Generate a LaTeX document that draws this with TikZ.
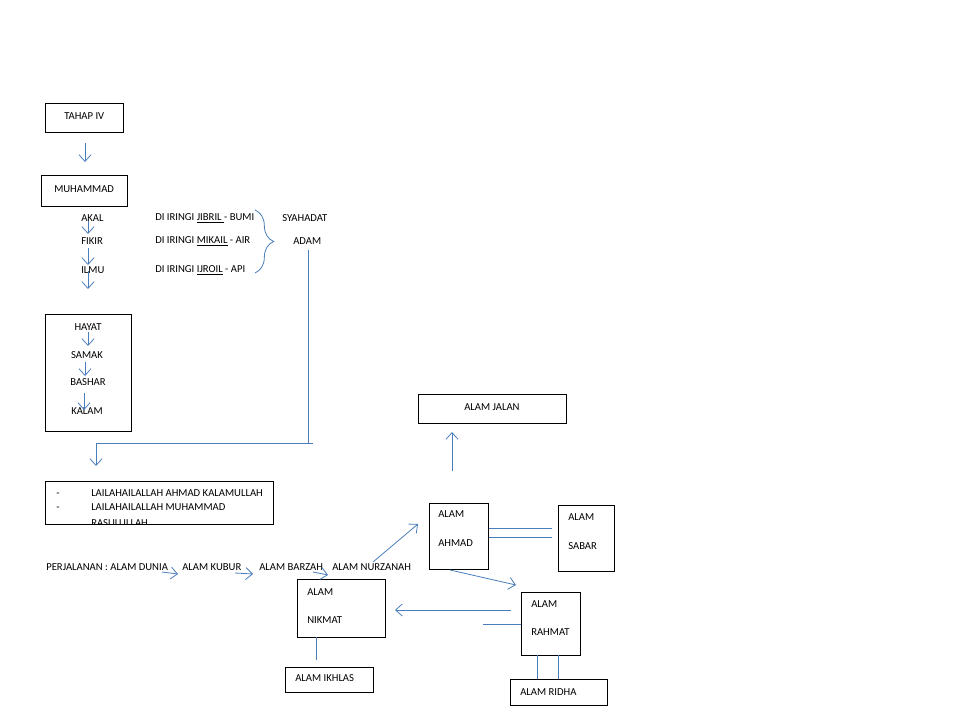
\documentclass[tikz,border=0pt]{standalone}
\usepackage{fontspec}
\setmainfont{Carlito}
\usetikzlibrary{arrows.meta,fit,decorations.pathreplacing}
\definecolor{lineblue}{HTML}{4A7EBB}
\begin{document}
\begin{tikzpicture}[x=0.75pt,y=-0.75pt,
  every node/.style={font=\fontsize{8}{10}\selectfont},
  box/.style={draw=black,line width=0.75pt,inner sep=0pt},
  txt/.style={inner sep=0pt,anchor=west},
  ctxt/.style={inner sep=0pt,anchor=center},
  conn/.style={draw=lineblue,line width=0.6pt},
  arr/.style={conn,-{Straight Barb[length=5pt,width=9pt]}}]
\useasboundingbox[fill=white] (0,0) rectangle (960,720);

% boxes
\node[box,fit={(45,104) (123,133)}] (tahap) {};
\node[box,fit={(41,176) (127,207)}] (muh) {};
\node[box,fit={(45,314) (131,431)}] (hayat) {};
\node[box,fit={(45,481) (273,524)}] (lail) {};
\node[box,fit={(418,394) (566,423)}] (jalan) {};
\node[box,fit={(429,503) (488,569)}] (ahmad) {};
\node[box,fit={(558,505) (614,571)}] (sabar) {};
\node[box,fit={(521,592) (580,655)}] (rahmat) {};
\node[box,fit={(510,679) (607,705)}] (ridha) {};
\node[box,fit={(297,579) (385,637)}] (nikmat) {};
\node[box,fit={(285,667) (373,692)}] (ikhlas) {};

% texts
\node[txt] (t1) at (64,116) {TAHAP IV};
\node[txt] (t2) at (54,189) {MUHAMMAD};
\node[txt] (akal) at (81,218) {AKAL};
\node[txt] (fikir) at (81,241) {FIKIR};
\node[txt] (ilmu) at (81,270) {ILMU};
\node[txt] (d1) at (155,218) {DI IRINGI \underline{JIBRIL\ }- BUMI};
\node[txt] (d2) at (155,241) {DI IRINGI \underline{MIKAIL} - AIR};
\node[txt] (d3) at (155,270) {DI IRINGI \underline{IJROIL} - API};
\node[txt] (sya) at (282,218) {SYAHADAT};
\node[txt] (adam) at (293,241) {ADAM};
\node[ctxt] (hy) at (88,327) {HAYAT};
\node[ctxt] (sm) at (87,355) {SAMAK};
\node[ctxt] (bs) at (88,382) {BASHAR};
\node[ctxt] (kl) at (87,411) {KALAM};
\node[txt] (m1) at (56,493) {\vphantom{L}-};
\node[txt] (m2) at (56,507) {\vphantom{L}-};
\begin{scope}
\clip (45,481) rectangle (273,524);
\node[txt] (l1) at (91,493) {LAILAHAILALLAH AHMAD KALAMULLAH};
\node[txt] (l2) at (91,507) {LAILAHAILALLAH MUHAMMAD};
\node[txt] (l3) at (91,523.5) {RASULULLAH};
\end{scope}
\node[txt] (p1) at (46,567) {PERJALANAN : ALAM DUNIA};
\node[txt] (p2) at (182,567) {ALAM KUBUR};
\node[txt] (p3) at (259,567) {ALAM BARZAH};
\node[txt] (p4) at (332,567) {ALAM NURZANAH};
\node[txt] (tj) at (464,407) {ALAM JALAN};
\node[txt] (ta1) at (438,514) {ALAM};
\node[txt] (ta2) at (438,543) {AHMAD};
\node[txt] (ts1) at (568,517) {ALAM};
\node[txt] (ts2) at (568,546) {SABAR};
\node[txt] (tr1) at (531,604) {ALAM};
\node[txt] (tr2) at (531,632) {RAHMAT};
\node[txt] (trd) at (520,692) {ALAM RIDHA};
\node[txt] (tn1) at (307,592) {ALAM};
\node[txt] (tn2) at (307,620) {NIKMAT};
\node[txt] (tik) at (295,678) {ALAM IKHLAS};

% coordinates for free ends
\coordinate (a1s) at (85,143); \coordinate (a1e) at (85,162);
\coordinate (a2s) at (88,221); \coordinate (a2e) at (88,234);
\coordinate (a3s) at (88,248); \coordinate (a3e) at (88,265);
\coordinate (a4s) at (88,271); \coordinate (a4e) at (88,289);
\coordinate (h1s) at (88,332); \coordinate (h1e) at (88,346);
\coordinate (h2s) at (85,362); \coordinate (h2e) at (85,376);
\coordinate (h3s) at (84,393); \coordinate (h3e) at (84,410);
\coordinate (adA) at (308,250); \coordinate (adB) at (308,443);
\coordinate (adC) at (313,443); \coordinate (adD) at (96,443);
\coordinate (adE) at (96,466);
\coordinate (r1s) at (162,572); \coordinate (r1e) at (178,574);
\coordinate (r2s) at (235,573); \coordinate (r2e) at (253,574);
\coordinate (r3s) at (313,572); \coordinate (r3e) at (328,575);
\coordinate (r4s) at (373,562); \coordinate (r4e) at (418,524);
\coordinate (ju) at (452,471); \coordinate (jt) at (452,432);
\coordinate (s1a) at (489,528); \coordinate (s1b) at (552,528);
\coordinate (s2a) at (489,537); \coordinate (s2b) at (552,537);
\coordinate (ars) at (450,570); \coordinate (are) at (516,585);
\coordinate (nks) at (511,610); \coordinate (nke) at (395,610);
\coordinate (rls) at (483,624);
\coordinate (v1a) at (537,655); \coordinate (v1b) at (537,679);
\coordinate (v2a) at (558,655); \coordinate (v2b) at (558,679);
\coordinate (iks) at (316,637); \coordinate (ike) at (316,660);
\coordinate (brT) at (255,210); \coordinate (brB) at (255,273);

% connectors
\draw[arr] (a1s) -- (a1e);
\draw[arr] (a2s) -- (a2e);
\draw[arr] (a3s) -- (a3e);
\draw[arr] (a4s) -- (a4e);
\draw[arr] (h1s) -- (h1e);
\draw[arr] (h2s) -- (h2e);
\draw[arr] (h3s) -- (h3e);
\draw[conn] (adA) -- (adB);
\draw[arr] (adC) -- (adD) -- (adE);
\draw[arr] (r1s) -- (r1e);
\draw[arr] (r2s) -- (r2e);
\draw[arr] (r3s) -- (r3e);
\draw[arr] (r4s) -- (r4e);
\draw[arr] (ju) -- (jt);
\draw[conn] (s1a) -- (s1b);
\draw[conn] (s2a) -- (s2b);
\draw[arr] (ars) -- (are);
\draw[arr] (nks) -- (nke);
\draw[conn] (rls) -- (rls -| rahmat.west);
\draw[conn] (v1a) -- (v1b);
\draw[conn] (v2a) -- (v2b);
\draw[conn] (iks) -- (ike);
\draw[conn,decorate,decoration={brace,amplitude=14pt,aspect=0.5}] (brT) -- (brB);
\end{tikzpicture}
\end{document}
